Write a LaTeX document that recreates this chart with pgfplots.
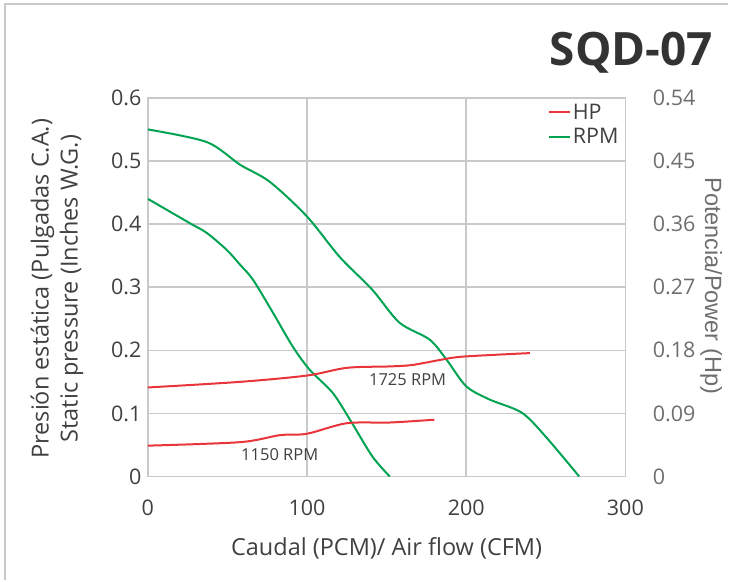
\documentclass[border=0pt]{standalone}
\usepackage{pgfplots}
\pgfplotsset{compat=1.18}
\usepackage{fontspec}
\setmainfont{Open Sans}
\newfontfamily\rfont{Liberation Sans}
\definecolor{hpred}{HTML}{E8343A}
\definecolor{rpmgreen}{HTML}{00A352}
\definecolor{gridgray}{HTML}{C9C9C9}
\definecolor{txtdark}{HTML}{404040}
\definecolor{txtgray}{HTML}{6E6E6E}
\newcommand\tfont{\fontsize{21.5bp}{25bp}\selectfont}
\newcommand\lfont{\fontsize{23.5bp}{27bp}\selectfont}
\begin{document}
\begin{tikzpicture}[x=1bp,y=1bp]
\path (0,0) rectangle (729,581);
\draw[gridgray, line width=1.5bp] (5,0) -- (5,577) -- (729,577);
\begin{axis}[
  at={(148bp,104bp)}, anchor=south west,
  scale only axis, width=478bp, height=379bp,
  xmin=0, xmax=300, ymin=0, ymax=0.6,
  xtick={0,100,200,300},
  ytick={0,0.1,0.2,0.3,0.4,0.5,0.6},
  major tick length=0pt,
  grid=major,
  major grid style={gridgray, line width=1.5bp},
  axis line style={gridgray, line width=1.5bp},
  /pgf/number format/assume math mode=true,
  yticklabel style={/pgf/number format/fixed, /pgf/number format/precision=1, font=\tfont, text=txtdark, xshift=-3bp},
  xticklabel style={font=\tfont, text=txtdark, yshift=-20bp},
]
\addplot[rpmgreen, line width=2bp, smooth, tension=0.5] coordinates {
(0,0.55) (37,0.53) (58,0.494) (76.6,0.467) (100,0.412) (120.5,0.348) (141,0.296)
(158,0.244) (177,0.217) (187.7,0.185) (200,0.143) (214.7,0.122) (235,0.101) (250,0.063) (271,0)};
\addplot[rpmgreen, line width=2bp, smooth, tension=0.5] coordinates {
(0,0.44) (26,0.402) (37,0.386) (49.6,0.359) (57.8,0.336) (66,0.312) (78.5,0.26)
(91,0.206) (101.7,0.169) (116,0.133) (127,0.09) (141,0.032) (152,0)};
\end{axis}
\begin{axis}[
  at={(148bp,104bp)}, anchor=south west,
  scale only axis, width=478bp, height=379bp,
  xmin=0, xmax=300, ymin=0, ymax=0.54,
  axis y line*=right, axis x line=none,
  ytick={0,0.09,0.18,0.27,0.36,0.45,0.54},
  major tick length=0pt,
  axis line style={draw=none},
  /pgf/number format/assume math mode=true,
  yticklabel style={/pgf/number format/fixed, /pgf/number format/precision=2, font=\tfont, text=txtgray, xshift=24bp},
  legend style={draw=none, fill=none, at={(rel axis cs:0.99,0.99)}, anchor=north east,
     font=\tfont, text=txtdark, row sep=4bp, inner sep=0pt},
  legend cell align=left,
  legend image code/.code={\draw[#1] (0bp,0bp) -- (14bp,0bp); \path (0bp,0bp) -- (21bp,0bp);},
]
\addplot[hpred, line width=2bp, smooth, tension=0.5] coordinates {
(0,0.127) (58,0.135) (100,0.144) (125,0.155) (152,0.157) (166,0.159) (183,0.166) (198,0.171) (240,0.176)};
\addlegendentry{HP}
\addplot[hpred, line width=2bp, smooth, tension=0.5, forget plot] coordinates {
(0,0.044) (58,0.049) (83,0.059) (100,0.061) (125,0.076) (152,0.077) (180,0.081)};
\addlegendimage{rpmgreen, line width=2bp}
\addlegendentry{RPM}
\end{axis}
\node[font=\fontsize{16.5bp}{19bp}\selectfont, text=txtdark] at (408,201) {1725 RPM};
\node[font=\fontsize{16.5bp}{19bp}\selectfont, text=txtdark] at (280,126) {1150 RPM};
\node[font=\lfont, text=txtdark] at (387,32) {Caudal (PCM)/ Air flow (CFM)};
\node[rotate=90, align=center, font=\lfont, text=txtdark, inner sep=0pt] at (57,292) {Presión estática (Pulgadas C.A.)\\[2bp] Static pressure (Inches W.G.)};
\node[rotate=-90, font=\rfont\fontsize{23.5bp}{27bp}\selectfont, text=txtgray] at (712,295) {Potencia/Power (Hp)};
\node[anchor=base east, font=\fontsize{46bp}{50bp}\selectfont\bfseries, text=black!80, inner sep=0pt] at (714,515) {SQD-07};
\end{tikzpicture}
\end{document}
